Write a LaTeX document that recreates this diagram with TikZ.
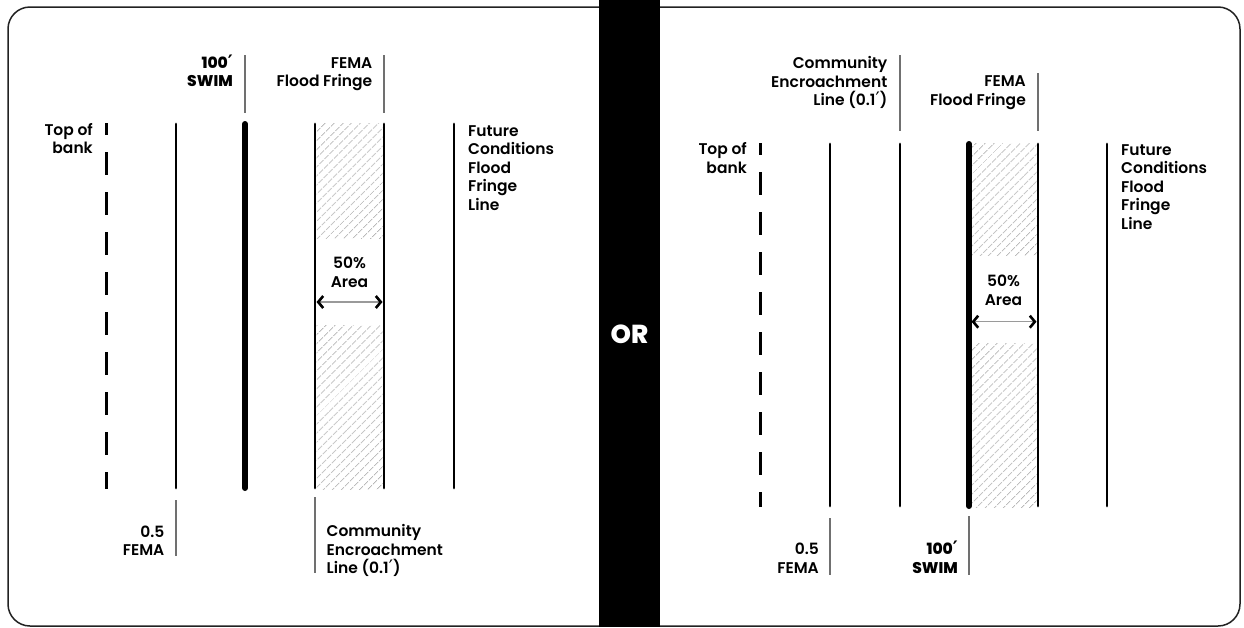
\documentclass[tikz,border=0pt]{standalone}
\usepackage{fontspec}
\setmainfont{Poppins}[UprightFont={* SemiBold}, BoldFont={* ExtraBold}]
\newfontfamily\primefont{DejaVu Sans}[Scale=1.2]
\newcommand\prm{{\primefont ′}}
\usetikzlibrary{arrows.meta,patterns.meta}
\definecolor{framecol}{HTML}{222222}
\definecolor{leadgray}{HTML}{707070}
\definecolor{hatchgray}{HTML}{B4B4B4}
\definecolor{arrowgray}{HTML}{9A9A9A}
\newcommand\lblfont{\fontsize{15.5}{18.5}\selectfont}
\begin{document}
\begin{tikzpicture}[x=1pt,y=-1pt,
  lbl/.style={font=\lblfont, inner sep=0pt},
  lblr/.style={lbl, align=right, anchor=base east},
  lbll/.style={lbl, align=left, anchor=base west},
  lblc/.style={lbl, align=center, anchor=base},
  boldlbl/.style={font=\lblfont\bfseries},
  bank/.style={line width=3pt, dash pattern=on 23pt off 17pt, dash phase=11pt},
  edgeline/.style={line width=2.8pt, line cap=round},
  swimline/.style={line width=6pt, line cap=round},
  leader/.style={line width=1.2pt, draw=leadgray},
  hatchfill/.style={pattern={Lines[angle=45,distance=6.5pt,line width=0.9pt]}, pattern color=hatchgray},
  arrowspan/.style={draw=arrowgray, line width=1.3pt,
    {Straight Barb[length=5pt,width=12pt,line width=2.6pt,color=black]}-{Straight Barb[length=5pt,width=12pt,line width=2.6pt,color=black]}}
]
\useasboundingbox (0,0) rectangle (1244,627);
% frame and divider
\draw[line width=1.5pt, draw=framecol, rounded corners=22pt] (8,7) rectangle (1240,626);
\fill[black] (599,0) rectangle (660,627);
\node[text=white, font=\bfseries\fontsize{26}{26}\selectfont, inner sep=0pt] (or) at (629.5,334) {OR};

% ---------- left panel ----------
\fill[hatchfill] (316.5,123) rectangle (382.5,238);
\fill[hatchfill] (316.5,325) rectangle (382.5,489);
\draw[bank] (106,123) -- (106,489);
\draw[edgeline] (176,124) -- (176,488);
\draw[swimline] (245,124) -- (245,488);
\draw[edgeline] (315,124) -- (315,488);
\draw[edgeline] (384,124) -- (384,488);
\draw[edgeline] (454,124) -- (454,488);
\draw[leader] (245,55) -- (245,113);
\draw[leader] (384,55) -- (384,113);
\draw[leader] (176,500) -- (176,556);
\draw[leader] (315,497) -- (315,573);
\node[lblr, boldlbl] (swimL) at (233,86.5) {100\prm\\SWIM};
\node[lblr] (femaL) at (372.5,86.5) {FEMA\\Flood Fringe};
\node[lblr] (bankL) at (93,153.5) {Top of\\bank};
\node[lbll] (futL) at (468,210) {Future\\Conditions\\Flood\\Fringe\\Line};
\node[lblr] (halfL) at (164.5,555.5) {0.5\\FEMA};
\node[lbll] (comL) at (326.5,573.7) {Community\\Encroachment\\Line (0.1\prm)};
\node[lblc] (areaL) at (349.5,287) {50\%\\Area};
\coordinate (aL1) at (316.5,302);
\coordinate (aL2) at (382.5,302);
\draw[arrowspan] (aL1) -- (aL2);

% ---------- right panel ----------
\fill[hatchfill] (970.5,143) rectangle (1036.5,255);
\fill[hatchfill] (970.5,343) rectangle (1036.5,507);
\draw[bank] (760,143) -- (760,507);
\draw[edgeline] (830,144) -- (830,506);
\draw[edgeline] (900,144) -- (900,506);
\draw[swimline] (969,144) -- (969,506);
\draw[edgeline] (1038,144) -- (1038,506);
\draw[edgeline] (1107,144) -- (1107,506);
\draw[leader] (900,55) -- (900,131);
\draw[leader] (1038,73) -- (1038,131);
\draw[leader] (830,518) -- (830,575);
\draw[leader] (969,516) -- (969,575);
\node[lblr] (comR) at (887.5,105.5) {Community\\Encroachment\\Line (0.1\prm)};
\node[lblr] (femaR) at (1026,105) {FEMA\\Flood Fringe};
\node[lblr] (bankR) at (747,173) {Top of\\bank};
\node[lbll] (futR) at (1121,229) {Future\\Conditions\\Flood\\Fringe\\Line};
\node[lblr] (halfR) at (819,573) {0.5\\FEMA};
\node[lblr, boldlbl] (swimR) at (958,573) {100\prm\\SWIM};
\node[lblc] (areaR) at (1003.5,305) {50\%\\Area};
\coordinate (aR1) at (971.5,321.7);
\coordinate (aR2) at (1036.5,321.7);
\draw[arrowspan] (aR1) -- (aR2);
\end{tikzpicture}
\end{document}
